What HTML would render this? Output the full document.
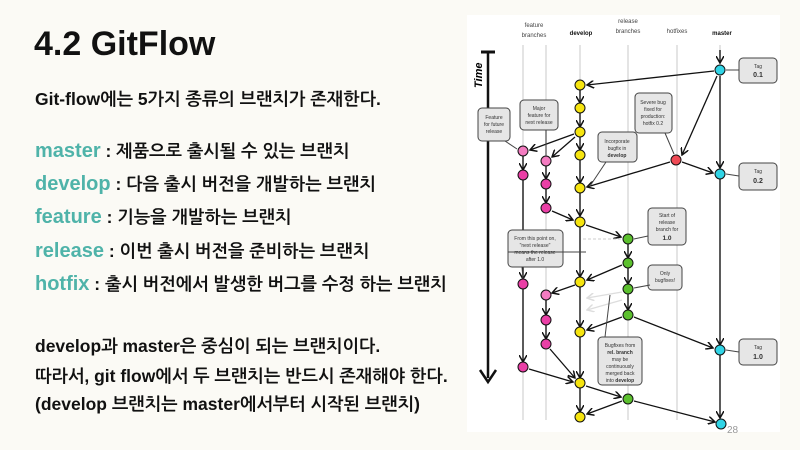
<!DOCTYPE html>
<html><head><meta charset="utf-8"><style>
body{margin:0;width:800px;height:450px;background:#fbfaf5;overflow:hidden;position:relative;font-family:"Liberation Sans","NanumGothic","Noto Sans CJK KR",sans-serif;color:#111}
.t{position:absolute;left:35px;font-weight:bold;white-space:nowrap}
.k{color:#4fb3a9;font-size:20px}
.l{font-size:17.5px}
</style></head><body>
<div class="t" style="top:25px;font-size:34px;left:34px">4.2 GitFlow</div>
<div class="t l" style="top:89px">Git-flow에는 5가지 종류의 브랜치가 존재한다.</div>
<div class="t l" style="top:140px"><span class="k">master</span> : 제품으로 출시될 수 있는 브랜치</div>
<div class="t l" style="top:173px"><span class="k">develop</span> : 다음 출시 버전을 개발하는 브랜치</div>
<div class="t l" style="top:206px"><span class="k">feature</span> : 기능을 개발하는 브랜치</div>
<div class="t l" style="top:240px"><span class="k">release</span> : 이번 출시 버전을 준비하는 브랜치</div>
<div class="t l" style="top:273px"><span class="k">hotfix</span> : 출시 버전에서 발생한 버그를 수정 하는 브랜치</div>
<div class="t l" style="top:336px">develop과 master은 중심이 되는 브랜치이다.</div>
<div class="t l" style="top:366px">따라서, git flow에서 두 브랜치는 반드시 존재해야 한다.</div>
<div class="t l" style="top:394px">(develop 브랜치는 master에서부터 시작된 브랜치)</div>

<svg style="position:absolute;left:0;top:0" width="800" height="450" font-family="Liberation Sans,sans-serif">
<defs><marker id="a" markerWidth="8" markerHeight="8" refX="7" refY="4" orient="auto" markerUnits="userSpaceOnUse"><path d="M0,0 L7,4 L0,8" fill="none" stroke="#111" stroke-width="1.5"/></marker>
<marker id="g" markerWidth="8" markerHeight="8" refX="7" refY="4" orient="auto" markerUnits="userSpaceOnUse"><path d="M0,0 L7,4 L0,8" fill="none" stroke="#ddd" stroke-width="1.5"/></marker></defs>
<rect x="467" y="15" width="313" height="417" fill="#fff"/>
<g stroke="#e4e4e4" stroke-width="2">
<line x1="523" y1="45" x2="523" y2="420"/><line x1="546" y1="45" x2="546" y2="420"/><line x1="580" y1="45" x2="580" y2="420"/><line x1="628" y1="45" x2="628" y2="420"/><line x1="677" y1="45" x2="677" y2="420"/><line x1="720" y1="45" x2="720" y2="420"/></g>
<g font-size="6" fill="#444" text-anchor="middle">
<text x="534" y="27">feature</text><text x="534" y="37">branches</text>
<text x="581" y="35" font-weight="bold" fill="#111">develop</text>
<text x="628" y="23">release</text><text x="628" y="33">branches</text>
<text x="677" y="33">hotfixes</text>
<text x="722" y="35" font-weight="bold" fill="#111">master</text></g>
<text x="0" y="0" font-size="11" font-weight="bold" font-style="italic" transform="translate(482,88) rotate(-90)">Time</text>
<line x1="481" y1="52" x2="495" y2="52" stroke="#111" stroke-width="3"/>
<line x1="488" y1="52" x2="488" y2="378" stroke="#111" stroke-width="2.5"/>
<path d="M480,370 L488,382 L496,370" fill="none" stroke="#111" stroke-width="2.5"/>
<g stroke="#111" stroke-width="1.3" fill="none" marker-end="url(#a)">
<line x1="720" y1="50" x2="720" y2="63"/>
<line x1="714" y1="71" x2="587" y2="85"/>
<line x1="580" y1="89" x2="580" y2="103"/><line x1="580" y1="113" x2="580" y2="127"/><line x1="580" y1="136" x2="580" y2="150"/><line x1="580" y1="160" x2="580" y2="183"/><line x1="580" y1="193" x2="580" y2="216"/>
<line x1="574" y1="134" x2="530" y2="150"/><line x1="575" y1="137" x2="552" y2="157"/>
<line x1="523" y1="156" x2="523" y2="170"/><line x1="546" y1="166" x2="546" y2="179"/><line x1="546" y1="189" x2="546" y2="203"/>
<line x1="552" y1="211" x2="573" y2="220"/>
<line x1="717" y1="76" x2="682" y2="155"/>
<line x1="720" y1="76" x2="720" y2="168"/>
<line x1="682" y1="162" x2="713" y2="173"/>
<line x1="670" y1="162" x2="587" y2="187"/>
<line x1="586" y1="225" x2="621" y2="237"/>
<line x1="628" y1="244" x2="628" y2="258"/><line x1="628" y1="268" x2="628" y2="284"/><line x1="628" y1="294" x2="628" y2="310"/>
<line x1="622" y1="265" x2="587" y2="280"/><line x1="575" y1="285" x2="552" y2="293"/>
<line x1="622" y1="317" x2="587" y2="330"/>
<line x1="580" y1="227" x2="580" y2="277"/><line x1="580" y1="287" x2="580" y2="327"/><line x1="580" y1="337" x2="580" y2="378"/><line x1="580" y1="388" x2="580" y2="412"/>
<line x1="523" y1="180" x2="523" y2="279"/><line x1="523" y1="289" x2="523" y2="362"/>
<line x1="546" y1="300" x2="546" y2="315"/><line x1="546" y1="325" x2="546" y2="339"/>
<line x1="550" y1="349" x2="575" y2="378"/><line x1="529" y1="369" x2="573" y2="382"/>
<line x1="586" y1="386" x2="621" y2="397"/><line x1="622" y1="401" x2="587" y2="414"/>
<line x1="634" y1="317" x2="713" y2="348"/><line x1="634" y1="401" x2="715" y2="422"/>
<line x1="720" y1="179" x2="720" y2="345"/><line x1="720" y1="355" x2="720" y2="418"/>
</g>
<g stroke="#ddd" stroke-width="1.3" marker-end="url(#g)"><line x1="622" y1="292" x2="587" y2="298"/><line x1="622" y1="300" x2="587" y2="310"/></g>
<line x1="583" y1="239" x2="622" y2="239" stroke="#ccc" stroke-dasharray="3,2"/>
<g stroke="#111" stroke-width="1">
<g fill="#31d4e6"><circle cx="720" cy="70" r="5"/><circle cx="720" cy="174" r="5"/><circle cx="720" cy="350" r="5"/><circle cx="721" cy="424" r="5"/></g>
<g fill="#f6e40f"><circle cx="580" cy="85" r="5"/><circle cx="580" cy="108" r="5"/><circle cx="580" cy="132" r="5"/><circle cx="580" cy="155" r="5"/><circle cx="580" cy="188" r="5"/><circle cx="580" cy="222" r="5"/><circle cx="580" cy="282" r="5"/><circle cx="580" cy="332" r="5"/><circle cx="580" cy="383" r="5"/><circle cx="580" cy="417" r="5"/></g>
<g fill="#ea3fa6"><circle cx="523" cy="175" r="5"/><circle cx="546" cy="184" r="5"/><circle cx="546" cy="208" r="5"/><circle cx="523" cy="284" r="5"/><circle cx="546" cy="320" r="5"/><circle cx="546" cy="344" r="5"/><circle cx="523" cy="367" r="5"/></g>
<g fill="#f37bc0"><circle cx="523" cy="151" r="5"/><circle cx="546" cy="161" r="5"/><circle cx="546" cy="295" r="5"/></g>
<circle cx="676" cy="160" r="5" fill="#ef4a55"/>
<g fill="#5cc02e"><circle cx="628" cy="239" r="5"/><circle cx="628" cy="263" r="5"/><circle cx="628" cy="289" r="5"/><circle cx="628" cy="315" r="5"/><circle cx="628" cy="399" r="5"/></g>
</g>
<g fill="#e6e6e6" stroke="#444" stroke-width="1">
<rect x="739" y="58" width="38" height="25" rx="4"/><rect x="739" y="163" width="38" height="27" rx="4"/><rect x="739" y="339" width="38" height="26" rx="4"/>
<rect x="478" y="108" width="32" height="33" rx="4"/><rect x="520" y="100" width="38" height="30" rx="4"/>
<rect x="598" y="132" width="39" height="30" rx="4"/><rect x="635" y="93" width="37" height="40" rx="4"/>
<rect x="648" y="208" width="38" height="37" rx="4"/><rect x="508" y="230" width="55" height="37" rx="4"/>
<rect x="648" y="265" width="34" height="25" rx="4"/><rect x="598" y="337" width="44" height="48" rx="4"/>
</g>
<g stroke="#444" stroke-width="1" fill="none"><path d="M739,70 L726,70"/><path d="M739,176 L726,174"/><path d="M739,352 L726,350"/><path d="M505,141 L517,149"/><path d="M546,130 L546,156"/><path d="M606,162 L590,186"/><path d="M665,133 L674,154"/><path d="M648,236 L634,239"/><path d="M650,285 L634,288"/><path d="M508,252 L586,252"/><path d="M522,267 L523,279"/><path d="M605,337 L610,295"/></g>
<g font-size="5" fill="#333" text-anchor="middle">
<text x="758" y="68">Tag</text><text x="758" y="77" font-size="7" font-weight="bold">0.1</text>
<text x="758" y="173">Tag</text><text x="758" y="183" font-size="7" font-weight="bold">0.2</text>
<text x="758" y="349">Tag</text><text x="758" y="359" font-size="7" font-weight="bold">1.0</text>
<text x="494" y="119">Feature</text><text x="494" y="126">for future</text><text x="494" y="133">release</text>
<text x="539" y="110">Major</text><text x="539" y="117">feature for</text><text x="539" y="124">next release</text>
<text x="617" y="143">Incorporate</text><text x="617" y="150">bugfix in</text><text x="617" y="157" font-weight="bold">develop</text>
<text x="653" y="104">Severe bug</text><text x="653" y="111">fixed for</text><text x="653" y="118">production:</text><text x="653" y="125">hotfix 0.2</text>
<text x="667" y="217">Start of</text><text x="667" y="224">release</text><text x="667" y="231">branch for</text><text x="667" y="240" font-size="6.5" font-weight="bold">1.0</text>
<text x="535" y="240">From this point on,</text><text x="535" y="247">"next release"</text><text x="535" y="254">means the release</text><text x="535" y="261">after 1.0</text>
<text x="665" y="275">Only</text><text x="665" y="282">bugfixes!</text>
<text x="620" y="347">Bugfixes from</text><text x="620" y="354" font-weight="bold">rel. branch</text><text x="620" y="361">may be</text><text x="620" y="368">continuously</text><text x="620" y="375">merged back</text><text x="620" y="382">into <tspan font-weight="bold">develop</tspan></text>
</g>
<text x="727" y="433" font-size="10" fill="#999">28</text>
</svg>
</body></html>
